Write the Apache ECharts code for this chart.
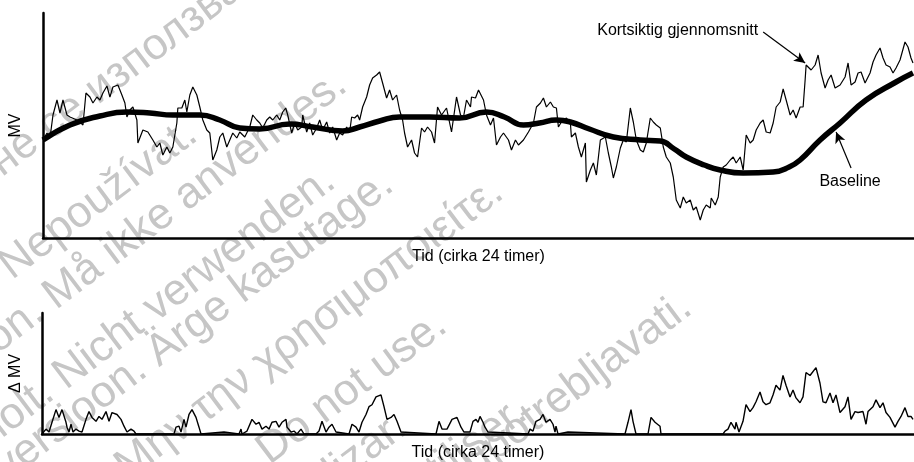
<!DOCTYPE html>
<html><head><meta charset="utf-8">
<script src="https://cdn.jsdelivr.net/npm/echarts@6.0.0/dist/echarts.min.js"></script>
<style>html,body{margin:0;padding:0;background:#fff}#c{width:914px;height:462px}</style>
</head><body><div id="c"></div>
<script>
// ---- data (time index 0..872, level units) ----
const shortTerm = [[0,98],[4,105],[7,100],[10,123],[14,138],[17,125],[20,138],[24,123],[27,121],[34,118],[37,116],[40,113],[43,145],[47,141],[50,135],[54,141],[57,138],[60,145],[64,152],[67,141],[70,151],[75,153],[79,143],[82,135],[84,121],[87,128],[90,131],[94,118],[95,95],[100,108],[105,106],[110,98],[114,91],[117,95],[120,83],[124,91],[127,85],[130,91],[134,115],[135,130],[139,130],[142,138],[144,126],[147,143],[150,151],[154,143],[157,131],[160,118],[164,108],[167,105],[170,78],[174,88],[177,101],[180,105],[184,91],[187,98],[190,105],[194,100],[197,106],[202,101],[207,111],[210,123],[214,118],[217,115],[220,110],[224,118],[227,121],[230,118],[234,123],[237,118],[240,126],[243,130],[245,123],[249,105],[252,115],[255,108],[259,111],[260,123],[264,106],[267,115],[270,103],[274,110],[277,118],[280,108],[284,116],[287,105],[290,111],[294,98],[297,105],[300,103],[304,111],[307,106],[309,121],[312,120],[315,123],[317,118],[320,131],[324,141],[327,153],[330,160],[334,163],[337,166],[340,155],[344,140],[347,148],[350,138],[354,143],[357,128],[360,118],[362,105],[365,91],[369,98],[372,85],[375,81],[379,110],[382,106],[385,111],[389,106],[392,95],[395,131],[399,123],[404,130],[409,106],[414,141],[418,123],[421,121],[424,138],[428,131],[429,141],[433,140],[436,148],[438,150],[441,138],[444,123],[448,113],[451,120],[454,93],[458,101],[461,105],[466,98],[469,88],[473,98],[476,93],[481,98],[486,106],[491,115],[494,131],[498,135],[501,140],[504,131],[508,136],[511,131],[514,130],[516,111],[519,116],[524,120],[528,115],[529,101],[533,105],[536,91],[539,81],[543,95],[544,56],[548,68],[551,75],[554,63],[558,98],[563,101],[566,85],[569,71],[571,60],[574,71],[578,90],[581,98],[584,96],[588,130],[591,116],[594,98],[598,88],[601,86],[604,95],[608,120],[611,116],[614,113],[618,110],[621,91],[624,81],[628,75],[631,61],[634,38],[638,30],[641,41],[644,35],[648,38],[651,28],[654,31],[658,18],[661,28],[664,33],[668,30],[669,40],[673,33],[676,41],[678,61],[681,71],[684,73],[688,78],[691,81],[694,75],[698,81],[701,68],[704,103],[708,95],[711,98],[714,108],[718,115],[721,118],[724,106],[728,105],[731,115],[734,131],[738,136],[741,149],[744,138],[748,123],[751,128],[754,120],[758,131],[761,131],[763,158],[764,173],[769,168],[773,173],[776,183],[779,165],[783,150],[786,158],[789,163],[793,150],[798,153],[803,161],[806,175],[809,153],[813,156],[816,165],[819,166],[823,155],[828,165],[831,176],[834,183],[838,190],[841,180],[844,173],[848,171],[851,165],[854,170],[858,178],[863,196],[866,191],[869,180],[871,175]];

const baseline = [[0,98],[27,113],[57,122],[84,126],[107,125],[130,123],[157,123],[177,118],[197,110],[217,109],[247,114],[270,111],[300,107],[317,111],[337,117],[357,121],[387,121],[417,120],[444,126],[462,121],[481,113],[497,115],[514,118],[528,116],[547,109],[571,101],[598,98],[618,97],[632,89],[644,81],[662,73],[678,68],[701,65],[731,66],[747,71],[758,78],[778,98],[798,115],[824,138],[854,156],[871,165]];

const deltaMV = [[0,0],[4,5],[7,2],[10,12],[14,25],[17,17],[20,25],[24,12],[25,7],[27,2],[29,10],[31,2],[34,5],[37,3],[40,2],[44,15],[47,23],[50,17],[54,13],[57,18],[60,15],[64,23],[67,13],[70,22],[75,20],[79,15],[82,8],[85,2],[89,5],[92,3],[94,0],[132,0],[134,7],[137,8],[139,2],[142,15],[144,7],[147,20],[150,25],[154,17],[157,7],[159,0],[182,2],[184,0],[197,0],[199,5],[200,0],[205,3],[210,15],[214,10],[217,12],[220,5],[224,8],[227,5],[230,12],[234,13],[237,7],[240,12],[244,15],[245,7],[249,2],[252,3],[255,0],[259,5],[262,0],[274,0],[277,3],[280,13],[284,2],[287,7],[290,10],[294,2],[295,0],[307,0],[310,10],[314,7],[317,2],[320,12],[324,20],[327,28],[330,30],[334,38],[339,40],[342,28],[345,15],[349,17],[352,20],[355,13],[359,2],[360,0],[394,0],[397,13],[400,5],[405,5],[410,15],[415,17],[419,7],[422,2],[424,3],[428,2],[431,13],[434,15],[436,12],[438,18],[441,12],[443,7],[446,2],[448,0],[486,0],[488,5],[491,3],[494,13],[498,15],[501,20],[504,12],[508,15],[511,10],[513,2],[514,8],[516,0],[526,2],[528,0],[583,0],[586,12],[589,25],[591,13],[594,0],[606,0],[609,17],[613,12],[615,13],[618,8],[619,0],[681,0],[683,3],[686,5],[689,12],[693,5],[694,12],[697,2],[699,3],[701,13],[704,30],[708,23],[711,27],[714,33],[718,43],[721,33],[724,30],[728,32],[731,40],[734,50],[738,45],[741,60],[744,50],[748,38],[751,45],[754,37],[758,32],[761,38],[764,63],[768,60],[774,68],[778,52],[781,33],[784,32],[788,42],[791,32],[794,40],[798,22],[803,28],[806,38],[809,15],[813,23],[816,22],[821,23],[824,10],[826,23],[831,28],[834,35],[838,27],[841,32],[844,22],[848,17],[853,7],[856,13],[859,18],[863,27],[866,18],[869,18],[871,15]];

const xTitle = 'Tid (cirka 24 timer)';
const yTitles = ['MV', 'Δ MV'];
const noteShort = 'Kortsiktig gjennomsnitt';
const noteBase = 'Baseline';
const watermark = [
  ['Остаряла версия. Да ', 'не се използва.'],
  ['Zastaralá verze. ', 'Nepoužívat.'],
  ['Forældet version. ', 'Må ikke anvendes.'],
  ['Version überholt. ', 'Nicht verwenden.'],
  ['Aegunud versioon. ', 'Ärge kasutage.'],
  ['Παλιά έκδοση. ', 'Μην την χρησιμοποιείτε.'],
  ['Outdated version. Do ', 'not use.'],
  ['Versión obsoleta. No utilizar.', ''],
  ['Version périmée. Ne pas utiliser.', ''],
  ['Zastarjela verzija. Nemojte upotrebljavati.', '']
];

// ---- layout ----
const FONT = 'Liberation Sans, Arial, sans-serif';
const wmPos = [[8,185],[18,288],[62,318],[72,398],[165,375],[134,489],[330,432],[415,440],[535,425],[700,320]];
const ROT = 37 * Math.PI / 180;
const WMFONT = '44px ' + FONT;
const graphics = [];
watermark.forEach((w, i) => {
  const [x, y] = wmPos[i];
  const common = {type:'text', x, y, rotation: ROT, z: -10, silent: true};
  const st = {font:WMFONT, fill:'#c6c6c6', stroke:'transparent', lineWidth:0, textVerticalAlign:'bottom'};
  graphics.push(Object.assign({}, common, {style:Object.assign({text:w[0], textAlign:'right'}, st)}));
  if (w[1]) graphics.push(Object.assign({}, common, {style:Object.assign({text:w[1], textAlign:'left'}, st)}));
});

const axisLine = {show:true, onZero:false, lineStyle:{color:'#000', width:2.5}};
const hidden = {axisTick:{show:false}, axisLabel:{show:false}, splitLine:{show:false}};
const nameStyle = {color:'#000', fontSize:16, fontFamily:FONT};

const chart = echarts.init(document.getElementById('c'), null, {renderer:'canvas'});
chart.setOption({
  animation:false,
  backgroundColor:'#fff',
  graphic: graphics,
  grid:[
    {left:42, right:0, top:13, bottom:224},
    {left:42, right:0, top:313, bottom:25}
  ],
  xAxis:[
    Object.assign({type:'value', gridIndex:0, min:0, max:872, axisLine, name:xTitle, nameLocation:'middle', nameGap:11, nameTextStyle:Object.assign({verticalAlign:'top'}, nameStyle)}, hidden),
    Object.assign({type:'value', gridIndex:1, min:0, max:872, axisLine, name:xTitle, nameLocation:'middle', nameGap:11, nameTextStyle:Object.assign({verticalAlign:'top'}, nameStyle)}, hidden)
  ],
  yAxis:[
    Object.assign({type:'value', gridIndex:0, min:0, max:225, axisLine, name:yTitles[0], nameLocation:'middle', nameGap:19, nameTextStyle:nameStyle}, hidden),
    Object.assign({type:'value', gridIndex:1, min:0, max:124, axisLine, name:yTitles[1], nameLocation:'middle', nameGap:18, nameTextStyle:nameStyle}, hidden)
  ],
  series:[
    {type:'line', xAxisIndex:0, yAxisIndex:0, data:baseline, smooth:0.5, showSymbol:false, z:3,
     lineStyle:{color:'#000', width:5.5}},
    {type:'line', xAxisIndex:0, yAxisIndex:0, data:shortTerm, showSymbol:false, z:4,
     lineStyle:{color:'#000', width:1.2},
     markLine:{silent:true, symbol:['none','arrow'], symbolSize:[8,11], label:{show:false},
       lineStyle:{color:'#000', width:1.2, type:'solid'},
       data:[
         [{coord:[721,206]},{coord:[763,175]}],
         [{coord:[809,70]},{coord:[794,106]}]
       ]},
     markPoint:{silent:true, symbol:'circle', symbolSize:0,
       data:[
         {coord:[716,207], name:noteShort, label:{position:'left', distance:0}},
         {coord:[808,56], name:noteBase, label:{position:'inside'}}
       ],
       label:{show:true, formatter:'{b}', color:'#000', fontSize:16, fontFamily:FONT}}
    },
    {type:'line', xAxisIndex:1, yAxisIndex:1, data:deltaMV, showSymbol:false, z:4,
     lineStyle:{color:'#000', width:1.4}}
  ]
});
</script></body></html>
